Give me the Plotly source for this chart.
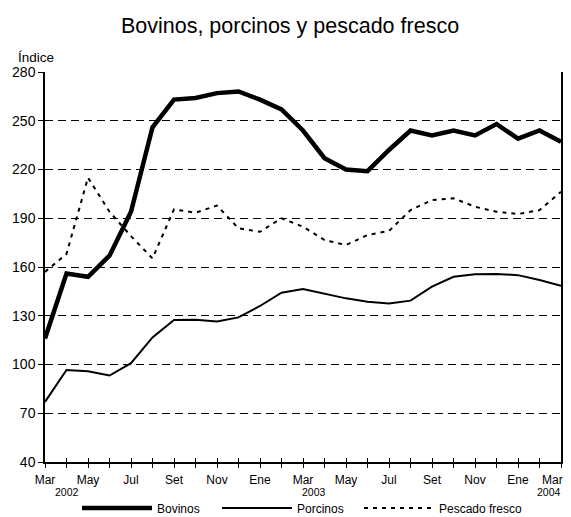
import plotly.graph_objects as go

months = ["Mar", "Abr", "May", "Jun", "Jul", "Ago", "Set", "Oct", "Nov", "Dic", "Ene", "Feb",
          "Mar", "Abr", "May", "Jun", "Jul", "Ago", "Set", "Oct", "Nov", "Dic", "Ene", "Feb", "Mar"]
tick_labels = ["Mar", "May", "Jul", "Set", "Nov", "Ene", "Mar", "May", "Jul", "Set", "Nov", "Ene", "Mar"]
years = ["2002", "2003", "2004"]

bovinos = [116, 156, 154, 167, 194, 246, 263, 264, 267, 268, 263, 257,
           244, 227, 220, 219, 232, 244, 241, 244, 241, 248, 239, 244, 237]
porcinos = [77, 96.6, 95.8, 93.2, 100.8, 116.7, 127.4, 127.5, 126.4, 129, 136, 144.2,
            146.5, 143.8, 140.7, 138.6, 137.6, 139.3, 147.9, 154, 155.5, 155.7, 155, 152, 148.5]
pescado = [157, 168, 215, 194, 179, 165.3, 195.5, 193.4, 197.8, 183.8, 181.7, 190,
           184.8, 176.6, 173.5, 179.7, 182.2, 195, 201.2, 202.3, 197.1, 194, 192.6, 195, 206.3]

x = list(range(len(months)))

fig = go.Figure()
fig.add_trace(go.Scatter(x=x, y=bovinos, mode="lines", name="Bovinos", legend="legend",
                         line=dict(color="black", width=4.5)))
fig.add_trace(go.Scatter(x=x, y=porcinos, mode="lines", name="Porcinos", legend="legend2",
                         line=dict(color="black", width=2)))
fig.add_trace(go.Scatter(x=x, y=pescado, mode="lines", name="Pescado fresco", legend="legend3",
                         line=dict(color="black", width=2, dash="4px,5px")))
# helper invisible trace on overlay axis for inside ticks
fig.add_trace(go.Scatter(x=x, y=[None] * len(x), xaxis="x2", showlegend=False,
                         hoverinfo="skip"))

# page body has an 8px margin, so the figure is 8px smaller than the window
W, H = 563, 509
L, R, T, B = 37, 10, 64, 55
PW = W - L - R

leg_common = dict(orientation="h", xanchor="left", yref="container", y=1 - 500 / H,
                  yanchor="middle", font=dict(size=12), itemwidth=70,
                  bgcolor="rgba(0,0,0,0)", borderwidth=0)

tick_idx = list(range(0, 25, 2))
# last label is drawn as an annotation so it is not clipped at the page edge
shown_text = tick_labels[:-1] + [""]

fig.update_layout(
    width=W, height=H,
    margin=dict(l=L, r=R, t=T, b=B, autoexpand=False),
    paper_bgcolor="white", plot_bgcolor="white",
    font=dict(family="Liberation Sans, Arial, sans-serif", color="black"),
    title=dict(text="Bovinos, porcinos y pescado fresco", x=282 / W, xanchor="center",
               yref="container", y=1 - 17 / H, yanchor="middle",
               font=dict(size=21.5, color="black")),
    xaxis=dict(range=[0, 24], tickvals=tick_idx, ticktext=shown_text,
               automargin=False,
               showgrid=False, zeroline=False, showline=True, linecolor="black", linewidth=1.5,
               ticks="outside", ticklen=4, tickwidth=1, tickcolor="black",
               minor=dict(dtick=1, tick0=0, ticks="outside", ticklen=4, tickwidth=1, tickcolor="black"),
               tickfont=dict(size=12), ticklabelstandoff=2),
    xaxis2=dict(range=[0, 24], overlaying="x", side="bottom", dtick=1, tick0=0,
                automargin=False,
                ticks="inside", ticklen=4, tickwidth=1, tickcolor="black",
                showticklabels=False, showgrid=False, zeroline=False, showline=False),
    yaxis=dict(range=[40, 280], dtick=30, tick0=40, automargin=False,
               showgrid=True, gridcolor="black", gridwidth=1, griddash="8px,5px",
               zeroline=False, showline=True, mirror=True, linecolor="black", linewidth=1.5,
               ticks="outside", ticklen=5, tickwidth=1, tickcolor="black",
               tickfont=dict(size=14)),
    legend=dict(x=(69 - L) / PW, **leg_common),
    legend2=dict(x=(209 - L) / PW, **leg_common),
    legend3=dict(x=(351 - L) / PW, **leg_common),
    showlegend=True,
)

fig.add_annotation(x=(557 - L) / PW, xref="paper", y=-18 / 390, yref="paper",
                   text=tick_labels[-1], showarrow=False, xanchor="right", yanchor="middle",
                   font=dict(size=12))

year_pos = [1, 12.5, 23.45]
for yr, xp in zip(years, year_pos):
    fig.add_annotation(x=xp, xref="x", y=-0.078, yref="paper", text=yr, showarrow=False,
                       font=dict(size=10.5), xanchor="center", yanchor="middle")

fig.add_annotation(x=-0.056, xref="paper", y=1.012, yref="paper", text="Índice",
                   showarrow=False, xanchor="left", yanchor="bottom", font=dict(size=13.5))

fig.write_html("out.html")
